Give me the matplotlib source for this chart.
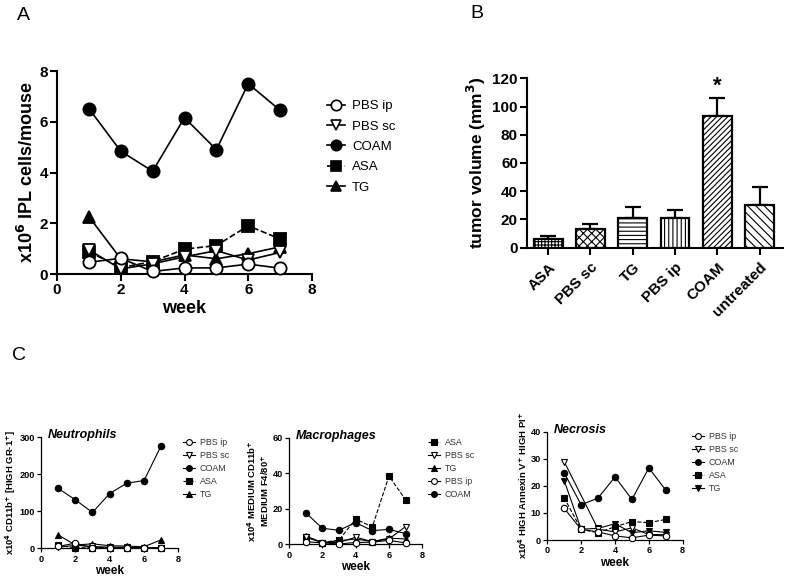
import numpy as np
import matplotlib
matplotlib.use("Agg")
import matplotlib.pyplot as plt
from matplotlib.lines import Line2D

plt.rcParams['font.family'] = ['Liberation Sans', 'DejaVu Sans']
plt.rcParams['hatch.linewidth'] = 0.8

# ---------------- data ----------------
weeks = [1, 2, 3, 4, 5, 6, 7]

# Panel A: x10^6 IPL cells/mouse
a_pbs_ip = [0.46, 0.62, 0.10, 0.24, 0.24, 0.39, 0.23]
a_pbs_sc = [0.95, 0.20, 0.40, 0.68, 0.92, 0.55, 0.85]
a_coam = [6.52, 4.84, 4.05, 6.16, 4.90, 7.50, 6.45]
a_asa = [0.88, 0.25, 0.49, 0.98, 1.12, 1.90, 1.38]
a_tg = [2.26, 0.60, 0.48, 0.75, 0.60, 0.80, 1.07]

# Panel B: tumor volume
b_groups = ['ASA', 'PBS sc', 'TG', 'PBS ip', 'COAM', 'untreated']
b_mean = [6.5, 13.2, 20.8, 20.8, 93.0, 30.2]
b_sem = [2.0, 3.6, 8.0, 5.7, 13.0, 12.8]

# Panel C: Neutrophils
n_pbs_ip = [5, 14, 1, 1, 2, 1, 1]
n_pbs_sc = [3, 8, 5, 3, 3, 2, 2]
n_coam = [162, 131, 97, 148, 176, 183, 277]
n_asa = [8, 1, 2, 2, 2, 2, 2]
n_tg = [36, 9, 12, 7, 6, 4, 23]

# Panel C: Macrophages
m_asa = [4.3, 1.0, 2.4, 14.2, 9.8, 38.4, 25.0]
m_pbs_sc = [4.0, 1.0, 1.0, 4.0, 1.5, 3.0, 10.0]
m_tg = [4.7, 1.0, 2.0, 3.0, 1.5, 3.5, 3.0]
m_pbs_ip = [1.5, 0.8, 0.2, 1.0, 1.2, 2.2, 0.8]
m_coam = [17.8, 9.0, 7.9, 12.2, 7.7, 8.4, 6.0]

# Panel C: Necrosis
x_pbs_ip = [11.7, 3.9, 3.0, 1.5, 0.8, 1.8, 1.5]
x_pbs_sc = [28.9, np.nan, 4.0, 3.0, 4.5, 2.0, 2.0]
x_coam = [24.8, 13.0, 15.5, 23.3, 15.0, 26.6, 18.4]
x_asa = [15.6, 3.9, 2.7, 4.9, 6.8, 6.4, 7.6]
x_tg = [21.9, 4.0, 4.3, 6.0, 2.7, 3.4, 2.8]

W, H = 788, 577
fig = plt.figure(figsize=(W / 100, H / 100), dpi=100)


def px_axes(l, t, r, b):
    return fig.add_axes([l / W, 1 - b / H, (r - l) / W, (b - t) / H])


def prism(ax, lw, tl, fs):
    for s in ['top', 'right']:
        ax.spines[s].set_visible(False)
    for s in ['left', 'bottom']:
        ax.spines[s].set_linewidth(lw)
    ax.tick_params(direction='out', width=lw, length=tl, labelsize=fs, pad=1.5)
    for lab in ax.get_xticklabels() + ax.get_yticklabels():
        lab.set_fontweight('bold')


STY = {
    'PBS ip': dict(marker='o', mfc='white', mec='black', ls='-'),
    'PBS sc': dict(marker='v', mfc='white', mec='black', ls='-'),
    'COAM': dict(marker='o', mfc='black', mec='black', ls='-'),
    'ASA': dict(marker='s', mfc='black', mec='black', ls='--'),
    'TG': dict(marker='^', mfc='black', mec='black', ls='-'),
    'TGv': dict(marker='v', mfc='black', mec='black', ls='-'),
}


def series(ax, y, key, ms, lw, mew, z):
    y = np.asarray(y, dtype=float)
    x = np.asarray(weeks, dtype=float)
    m = np.isfinite(y)
    st = STY[key]
    ax.plot(x[m], y[m], color='black', lw=lw, marker=st['marker'], ms=ms,
            mfc=st['mfc'], mec=st['mec'], mew=mew, ls=st['ls'], zorder=z,
            clip_on=False)


def legend(ax, entries, x, y, ms, lw, fs, spacing, hl, color='black'):
    handles = []
    for key, label in entries:
        st = STY[key]
        handles.append(Line2D([], [], color='black', lw=lw, marker=st['marker'],
                              ms=ms, mfc=st['mfc'], mec=st['mec'], mew=lw,
                              ls=st['ls'], label=label))
    lg = ax.legend(handles=handles, loc='upper left', bbox_to_anchor=(x / W, 1 - y / H),
                   bbox_transform=fig.transFigure, frameon=False, fontsize=fs,
                   labelspacing=spacing, handlelength=hl, handletextpad=0.5,
                   borderpad=0, borderaxespad=0)
    for t in lg.get_texts():
        t.set_color(color)


# ---------------- Panel A ----------------
axA = px_axes(57, 71, 312, 274)
series(axA, a_pbs_ip, 'PBS ip', 8.8, 1.2, 1.3, 5)
series(axA, a_pbs_sc, 'PBS sc', 8.8, 1.2, 1.3, 4)
series(axA, a_coam, 'COAM', 8.8, 1.2, 1.3, 3)
series(axA, a_asa, 'ASA', 8.8, 1.2, 1.3, 3)
series(axA, a_tg, 'TG', 8.8, 1.2, 1.3, 3)
axA.set_xlim(0, 8)
axA.set_ylim(0, 8)
axA.set_xticks([0, 2, 4, 6, 8])
axA.set_yticks([0, 2, 4, 6, 8])
prism(axA, 1.5, 5, 11)
axA.set_xlabel('week', fontsize=13, fontweight='bold', labelpad=2)
axA.set_ylabel('x10$^{\\mathbf{6}}$ IPL cells/mouse', fontsize=13, fontweight='bold', labelpad=2)
legend(axA, [('PBS ip', 'PBS ip'), ('PBS sc', 'PBS sc'), ('COAM', 'COAM'),
             ('ASA', 'ASA'), ('TG', 'TG')], 327, 100, 7.5, 1.2, 9.5, 0.62, 1.4)

# ---------------- Panel B ----------------
axB = px_axes(527, 78.3, 783, 247.7)
hatches = ['+++++', 'xxxx', '----', '||||', '//////', '\\\\\\\\']
xpos = np.arange(len(b_groups))
for i in range(len(b_groups)):
    axB.errorbar(xpos[i], b_mean[i], yerr=[[0], [b_sem[i]]], fmt='none',
                 ecolor='black', elinewidth=1.6, capsize=6, capthick=1.6, zorder=2)
    axB.bar(xpos[i], b_mean[i], width=0.68, color='white', edgecolor='black',
            linewidth=1.6, hatch=hatches[i], zorder=3)
axB.text(xpos[4], b_mean[4] + b_sem[4] + 1, '*', ha='center', va='bottom',
         fontsize=16, fontweight='bold')
axB.set_xlim(-0.5, 5.55)
axB.set_ylim(0, 120)
axB.set_yticks([0, 20, 40, 60, 80, 100, 120])
axB.set_xticks(xpos)
axB.set_xticklabels(b_groups, rotation=45, ha='right', rotation_mode='anchor')
prism(axB, 1.5, 5, 11)
axB.tick_params(axis='x', pad=4)
axB.set_ylabel('tumor volume (mm$^{\\mathbf{3}}$)', fontsize=12.5, fontweight='bold', labelpad=3)

# ---------------- Panel C ----------------
def small_panel(l, t, r, b, data, ymax, yticks, title, ylabel, leg_entries, leg_xy):
    ax = px_axes(l, t, r, b)
    for y, key, z in data:
        series(ax, y, key, 4.6, 0.8, 0.8, z)
    ax.set_xlim(0, 8)
    ax.set_ylim(0, ymax)
    ax.set_xticks([0, 2, 4, 6, 8])
    ax.set_yticks(yticks)
    prism(ax, 0.9, 3, 6.6)
    ax.set_xlabel('week', fontsize=8.5, fontweight='bold', labelpad=1)
    ax.set_ylabel(ylabel, fontsize=6.8, fontweight='bold', labelpad=1, linespacing=1.1)
    ax.text(0.05, 1.02, title, transform=ax.transAxes, fontsize=9,
            fontweight='bold', fontstyle='italic', ha='left', va='center')
    legend(ax, leg_entries, leg_xy[0], leg_xy[1], 4.2, 0.8, 6.4, 0.45, 1.4, '#333333')
    return ax


small_panel(41, 437.3, 178.3, 548.3,
            [(n_pbs_ip, 'PBS ip', 5), (n_pbs_sc, 'PBS sc', 4), (n_coam, 'COAM', 3),
             (n_asa, 'ASA', 3), (n_tg, 'TG', 3)],
            300, [0, 100, 200, 300], 'Neutrophils',
            'x10$^{\\mathbf{4}}$ CD11b$^{\\mathbf{+}}$ [HIGH GR-1$^{\\mathbf{+}}$]',
            [('PBS ip', 'PBS ip'), ('PBS sc', 'PBS sc'), ('COAM', 'COAM'),
             ('ASA', 'ASA'), ('TG', 'TG')], (183, 438))

small_panel(289, 437.7, 422.3, 544.3,
            [(m_asa, 'ASA', 3), (m_pbs_sc, 'PBS sc', 4), (m_tg, 'TG', 3),
             (m_pbs_ip, 'PBS ip', 5), (m_coam, 'COAM', 3)],
            60, [0, 20, 40, 60], 'Macrophages',
            'x10$^{\\mathbf{4}}$ MEDIUM CD11b$^{\\mathbf{+}}$\nMEDIUM F4/80$^{\\mathbf{+}}$',
            [('ASA', 'ASA'), ('PBS sc', 'PBS sc'), ('TG', 'TG'),
             ('PBS ip', 'PBS ip'), ('COAM', 'COAM')], (428, 438))

small_panel(547.3, 431.7, 682.7, 540,
            [(x_pbs_ip, 'PBS ip', 5), (x_pbs_sc, 'PBS sc', 4), (x_coam, 'COAM', 3),
             (x_asa, 'ASA', 3), (x_tg, 'TGv', 3)],
            40, [0, 10, 20, 30, 40], 'Necrosis',
            'x10$^{\\mathbf{4}}$ HIGH Annexin V$^{\\mathbf{+}}$ HIGH PI$^{\\mathbf{+}}$',
            [('PBS ip', 'PBS ip'), ('PBS sc', 'PBS sc'), ('COAM', 'COAM'),
             ('ASA', 'ASA'), ('TGv', 'TG')], (692, 432))

# panel letters
fig.text(17 / W, 1 - 15 / H, 'A', fontsize=14, va='center', ha='left')
fig.text(470 / W, 1 - 14 / H, 'B', fontsize=14, va='center', ha='left')
fig.text(12 / W, 1 - 356 / H, 'C', fontsize=14, va='center', ha='left')

fig.savefig('out.png', dpi=100, facecolor='white')
